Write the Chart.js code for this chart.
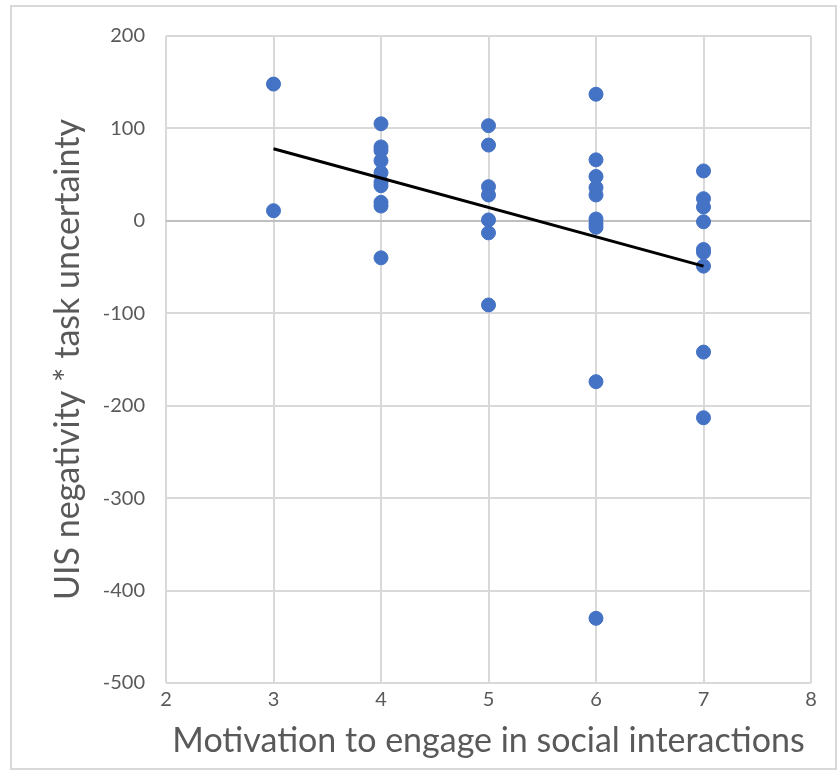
<!DOCTYPE html>
<html>
<head>
<meta charset="utf-8">
<script src="https://cdn.jsdelivr.net/npm/chart.js@4"></script>
<style>
  html, body { margin: 0; padding: 0; background: #fff; }
  canvas { display: block; }
</style>
</head>
<body>
<canvas id="scatterChart" width="838" height="771"></canvas>
<script>
'use strict';

// motivation score (x) and UIS negativity * task uncertainty (y)
const motivation = [3, 3,
    4, 4, 4, 4, 4, 4, 4, 4, 4, 4,
    5, 5, 5, 5, 5, 5, 5,
    6, 6, 6, 6, 6, 6, 6, 6, 6, 6,
    7, 7, 7, 7, 7, 7, 7, 7, 7];
const interaction = [148, 11,
    105, 80, 76, 65, 52, 42, 38, 20, 16, -40,
    103, 82, 37, 28, 1, -13, -91,
    137, 66, 48, 36, 28, 2, -3, -7, -174, -430,
    54, 24, 15, -1, -31, -34, -49, -142, -213];

// fitted trend line end points
const trendX = [3, 7];
const trendY = [78, -49];

const xTicks = [2, 3, 4, 5, 6, 7, 8];
const yTicks = [-500, -400, -300, -200, -100, 0, 100, 200];

const textColor = '#595959';
const gridColor = '#d9d9d9';
const fontFamily = "Lato, 'Open Sans', sans-serif";

const framePlugin = {
    id: 'frame',
    beforeDraw(chart) {
        const c = chart.ctx;
        c.save();
        c.fillStyle = '#ffffff';
        c.fillRect(0, 0, chart.width, chart.height);
        c.strokeStyle = '#d9d9d9';
        c.lineWidth = 2;
        c.strokeRect(11, 6, 825, 763);
        c.restore();
    }
};

const ctx = document.getElementById('scatterChart').getContext('2d');

new Chart(ctx, {
    type: 'scatter',
    data: {
        datasets: [
            {
                type: 'line',
                label: 'Trend',
                data: trendX.map((x, i) => ({ x: x, y: trendY[i] })),
                borderColor: '#000000',
                borderWidth: 3,
                pointRadius: 0,
                fill: false,
                order: 0
            },
            {
                label: 'Participants',
                data: motivation.map((x, i) => ({ x: x, y: interaction[i] })),
                backgroundColor: '#4472C4',
                borderColor: '#4472C4',
                pointRadius: 7,
                pointHoverRadius: 7,
                order: 1
            }
        ]
    },
    options: {
        responsive: false,
        animation: false,
        layout: { padding: { left: 0, top: 36, right: 27, bottom: 0 } },
        plugins: {
            legend: { display: false },
            tooltip: { enabled: false }
        },
        scales: {
            x: {
                type: 'linear',
                min: xTicks[0],
                max: xTicks[xTicks.length - 1],
                afterBuildTicks: axis => { axis.ticks = xTicks.map(v => ({ value: v })); },
                afterFit: axis => { axis.height = 88; },
                border: { display: false },
                grid: { color: gridColor, lineWidth: 2, drawTicks: false },
                ticks: {
                    color: textColor,
                    padding: 5,
                    font: { family: fontFamily, size: 20 }
                },
                title: {
                    display: true,
                    text: 'Motivation to engage in social interactions',
                    color: textColor,
                    font: { family: fontFamily, size: 34 },
                    padding: { top: 0, bottom: 10 }
                }
            },
            y: {
                type: 'linear',
                min: yTicks[0],
                max: yTicks[yTicks.length - 1],
                afterBuildTicks: axis => { axis.ticks = yTicks.map(v => ({ value: v })); },
                afterFit: axis => { axis.width = 166; },
                border: { display: false },
                grid: {
                    color: c => (c.tick && c.tick.value === 0 ? '#bfbfbf' : gridColor),
                    lineWidth: 2,
                    drawTicks: false
                },
                ticks: {
                    color: textColor,
                    padding: 21,
                    font: { family: fontFamily, size: 20 }
                },
                title: {
                    display: true,
                    text: 'UIS negativity * task uncertainty',
                    color: textColor,
                    font: { family: fontFamily, size: 34 },
                    padding: { top: 48, bottom: 0 }
                }
            }
        }
    },
    plugins: [framePlugin]
});
</script>
</body>
</html>
